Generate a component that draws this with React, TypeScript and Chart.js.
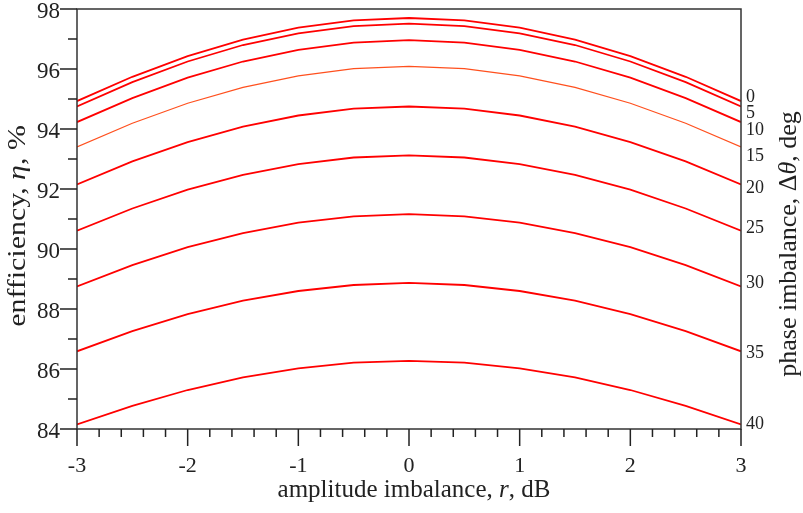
import React, { useEffect, useRef } from "react";
import { Chart, registerables } from "chart.js";

Chart.register(...registerables);

// amplitude imbalance r, dB
const amplitude = [-3, -2.5, -2, -1.5, -1, -0.5, 0, 0.5, 1, 1.5, 2, 2.5, 3];

// efficiency (%) for each phase imbalance
const eta0 = [94.93, 95.74, 96.43, 96.98, 97.38, 97.62, 97.70, 97.62, 97.38, 96.98, 96.43, 95.74, 94.93];
const eta5 = [94.75, 95.56, 96.25, 96.80, 97.19, 97.43, 97.51, 97.43, 97.19, 96.80, 96.25, 95.56, 94.75];
const eta10 = [94.23, 95.03, 95.71, 96.25, 96.64, 96.88, 96.96, 96.88, 96.64, 96.25, 95.71, 95.03, 94.23];
const eta15 = [93.40, 94.19, 94.86, 95.39, 95.77, 96.01, 96.09, 96.01, 95.77, 95.39, 94.86, 94.19, 93.40];
const eta20 = [92.15, 92.92, 93.56, 94.08, 94.45, 94.68, 94.75, 94.68, 94.45, 94.08, 93.56, 92.92, 92.15];
const eta25 = [90.61, 91.35, 91.98, 92.47, 92.83, 93.05, 93.12, 93.05, 92.83, 92.47, 91.98, 91.35, 90.61];
const eta30 = [88.75, 89.46, 90.06, 90.53, 90.88, 91.09, 91.16, 91.09, 90.88, 90.53, 90.06, 89.46, 88.75];
const eta35 = [86.59, 87.26, 87.83, 88.28, 88.60, 88.80, 88.87, 88.80, 88.60, 88.28, 87.83, 87.26, 86.59];
const eta40 = [84.15, 84.77, 85.30, 85.72, 86.02, 86.21, 86.27, 86.21, 86.02, 85.72, 85.30, 84.77, 84.15];

const seriesList = [eta0, eta5, eta10, eta15, eta20, eta25, eta30, eta35, eta40];
const phaseNames = ["0", "5", "10", "15", "20", "25", "30", "35", "40"];

// right-side labels: where each phase label sits on the efficiency scale
const phaseLabelPos = [95.06, 94.53, 93.96, 93.09, 92.02, 90.68, 88.85, 86.51, 84.17];

const xTicks = [-3, -2, -1, 0, 1, 2, 3];
const yTicks = [84, 86, 88, 90, 92, 94, 96, 98];

const FONT = "'Liberation Serif', 'Times New Roman', serif";
const INK = "#222";

type Seg = { t: string; i?: boolean };

function drawRich(ctx: CanvasRenderingContext2D, segs: Seg[], size: number, sx = 1) {
  let total = 0;
  const widths = segs.map((s) => {
    ctx.font = `${s.i ? "italic " : ""}${size}px ${FONT}`;
    const w = ctx.measureText(s.t).width;
    total += w;
    return w;
  });
  ctx.scale(sx, 1);
  let x = -total / 2;
  ctx.textBaseline = "alphabetic";
  ctx.textAlign = "left";
  segs.forEach((s, k) => {
    ctx.font = `${s.i ? "italic " : ""}${size}px ${FONT}`;
    ctx.fillText(s.t, x, 0);
    x += widths[k];
  });
}

const framePlugin = {
  id: "frameTicksTitles",
  afterDraw(chart: any) {
    const ctx: CanvasRenderingContext2D = chart.ctx;
    const { left, right, top, bottom } = chart.chartArea;
    const xs = chart.scales.x;
    const ys = chart.scales.y;
    ctx.save();
    ctx.strokeStyle = "#333";
    ctx.lineWidth = 1.5;
    ctx.strokeRect(left, top, right - left, bottom - top);

    ctx.strokeStyle = INK;
    ctx.lineWidth = 1.5;
    ctx.beginPath();
    for (let v = ys.min; v <= ys.max + 1e-9; v += 1) {
      const p = ys.getPixelForValue(v);
      const major = Math.abs(v % 2) < 1e-9;
      ctx.moveTo(left - (major ? 17 : 9), p);
      ctx.lineTo(left, p);
    }
    for (let k = 0; k <= 30; k++) {
      const v = xs.min + k * 0.2;
      const p = xs.getPixelForValue(v);
      const major = k % 5 === 0;
      ctx.moveTo(p, bottom);
      ctx.lineTo(p, bottom + (major ? 17 : 8));
    }
    ctx.stroke();

    ctx.fillStyle = INK;
    // x title
    ctx.save();
    ctx.translate(414, 497);
    drawRich(ctx, [{ t: "amplitude imbalance, " }, { t: "r", i: true }, { t: ", dB" }], 25);
    ctx.restore();
    // left title
    ctx.save();
    ctx.translate(25, 226);
    ctx.rotate(-Math.PI / 2);
    drawRich(ctx, [{ t: "enfficiency, " }, { t: "η", i: true }, { t: ", %" }], 26, 1.15);
    ctx.restore();
    // right title
    ctx.save();
    ctx.translate(796, 244);
    ctx.rotate(-Math.PI / 2);
    drawRich(ctx, [{ t: "phase imbalance, Δ" }, { t: "θ", i: true }, { t: ", deg" }], 26);
    ctx.restore();
    ctx.restore();
  },
};

export default function App() {
  const ref = useRef<HTMLCanvasElement | null>(null);
  useEffect(() => {
    if (!ref.current) return;
    const datasets = seriesList.map((s, k) => ({
      label: phaseNames[k],
      data: amplitude.map((a, i) => ({ x: a, y: s[i] })),
      borderColor: k === 3 ? "rgb(255,80,30)" : "rgb(255,0,0)",
      borderWidth: k === 3 ? 1.2 : 1.8,
      pointRadius: 0,
      fill: false,
      tension: 0,
    }));
    const chart = new Chart(ref.current, {
      type: "line",
      data: { datasets },
      plugins: [framePlugin],
      options: {
        animation: false,
        responsive: false,
        layout: { padding: { top: 9, left: 0, right: 0, bottom: 0 } },
        plugins: { legend: { display: false }, tooltip: { enabled: false } },
        scales: {
          x: {
            type: "linear",
            min: -3,
            max: 3,
            grid: { display: false, drawTicks: false },
            border: { display: false },
            afterBuildTicks: (s: any) => {
              s.ticks = xTicks.map((v) => ({ value: v }));
            },
            afterFit: (s: any) => {
              s.height = 84;
              s.paddingLeft = 0;
              s.paddingRight = 0;
            },
            ticks: {
              autoSkip: false,
              maxRotation: 0,
              padding: 24,
              color: INK,
              font: { family: FONT, size: 22 },
              callback: (v: any) => String(v),
            },
          },
          y: {
            type: "linear",
            position: "left",
            min: 84,
            max: 98,
            grid: { display: false, drawTicks: false },
            border: { display: false },
            afterBuildTicks: (s: any) => {
              s.ticks = yTicks.map((v) => ({ value: v }));
            },
            afterFit: (s: any) => {
              s.width = 77;
              s.paddingTop = 0;
              s.paddingBottom = 0;
            },
            ticks: {
              autoSkip: false,
              padding: 17,
              labelOffset: 3,
              color: INK,
              font: { family: FONT, size: 23 },
              callback: (v: any) => String(v),
            },
          },
          y2: {
            type: "linear",
            position: "right",
            min: 84,
            max: 98,
            grid: { display: false, drawTicks: false },
            border: { display: false },
            afterBuildTicks: (s: any) => {
              s.ticks = phaseLabelPos.map((v) => ({ value: v }));
            },
            afterFit: (s: any) => {
              s.width = 62;
              s.paddingTop = 0;
              s.paddingBottom = 0;
            },
            ticks: {
              autoSkip: false,
              padding: 5,
              color: INK,
              font: { family: FONT, size: 18 },
              callback: (_v: any, i: number) => phaseNames[i],
            },
          },
        },
      },
    } as any);
    return () => chart.destroy();
  }, []);
  return (
    <div style={{ position: "absolute", left: 0, top: 0, width: 803, height: 513, background: "#fff" }}>
      <canvas ref={ref} width={803} height={513} style={{ width: 803, height: 513, display: "block" }} />
    </div>
  );
}
